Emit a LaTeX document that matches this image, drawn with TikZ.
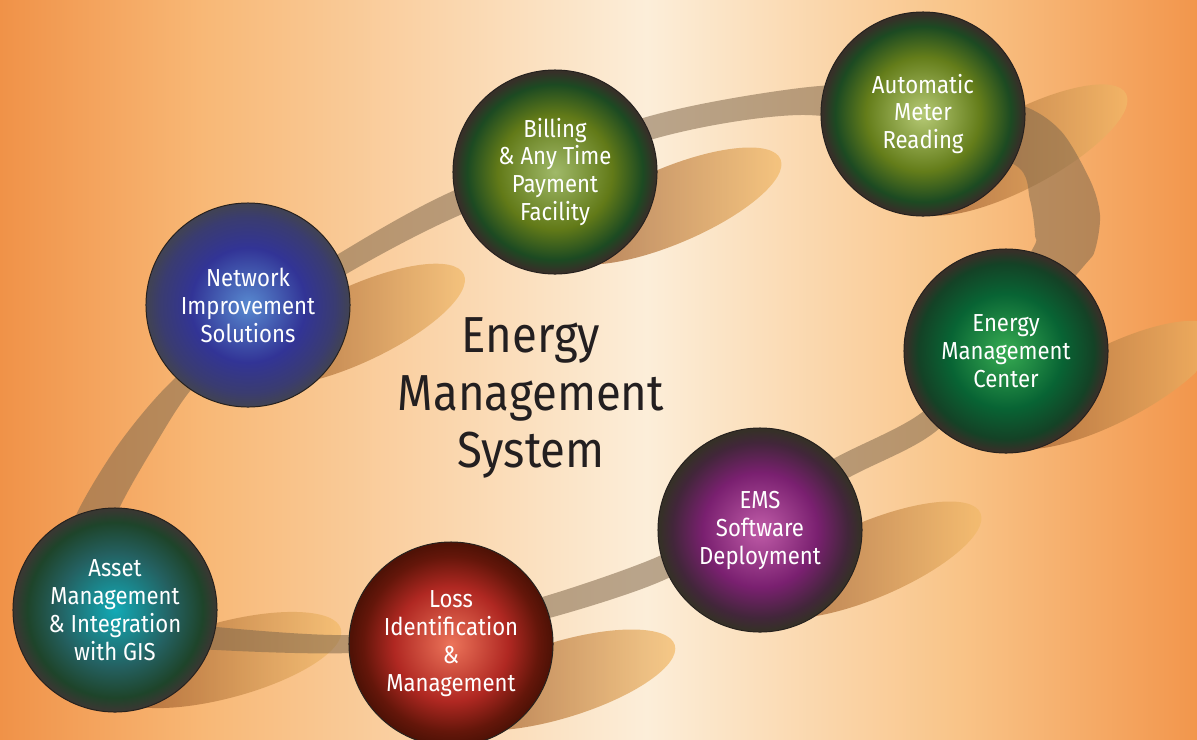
\documentclass[tikz,border=0pt]{standalone}
\usepackage{fontspec}
\setmainfont{Fira Sans}[FakeStretch=0.9]
\usetikzlibrary{positioning}

% background and band colours
\definecolor{bgedge}{RGB}{240,146,72}
\definecolor{bgwarm}{RGB}{248,184,118}
\definecolor{bgcream}{RGB}{252,238,217}
\definecolor{bgpeach}{RGB}{249,196,136}
\definecolor{bgright}{RGB}{242,150,76}
\definecolor{bandbrown}{RGB}{130,105,76}
\definecolor{shadowdark}{RGB}{145,78,36}
\definecolor{shadowlight}{RGB}{246,190,108}
\definecolor{rimline}{RGB}{38,33,30}
\definecolor{titletext}{RGB}{35,31,32}

% sphere colours: centre, middle, dark ring, rim
\definecolor{billA}{RGB}{160,185,105}\definecolor{billB}{RGB}{98,122,24}
\definecolor{billC}{RGB}{28,74,34}\definecolor{billD}{RGB}{54,48,40}
\definecolor{amrA}{RGB}{182,202,118}\definecolor{amrB}{RGB}{100,125,26}
\definecolor{emcA}{RGB}{55,172,82}\definecolor{emcB}{RGB}{8,100,52}
\definecolor{emcC}{RGB}{20,66,38}
\definecolor{emsA}{RGB}{192,92,168}\definecolor{emsB}{RGB}{122,32,112}
\definecolor{emsC}{RGB}{66,38,58}
\definecolor{lossA}{RGB}{236,116,90}\definecolor{lossB}{RGB}{176,40,34}
\definecolor{lossC}{RGB}{100,22,10}\definecolor{lossD}{RGB}{80,18,6}
\definecolor{assetA}{RGB}{18,170,182}\definecolor{assetB}{RGB}{36,96,96}
\definecolor{assetC}{RGB}{30,68,42}\definecolor{assetD}{RGB}{56,56,50}
\definecolor{netA}{RGB}{88,138,208}\definecolor{netB}{RGB}{50,52,150}
\definecolor{netC}{RGB}{58,60,112}\definecolor{netD}{RGB}{64,66,86}

\pgfdeclarehorizontalshading{bgshade}{100bp}{color(0bp)=(bgedge); color(25bp)=(bgedge);
  color(33.5bp)=(bgwarm); color(52bp)=(bgcream); color(65bp)=(bgpeach);
  color(75bp)=(bgright); color(100bp)=(bgright)}
\newcommand{\ballshading}[5]{%
  \pgfdeclareradialshading{#1}{\pgfpoint{0bp}{0bp}}{color(0bp)=(#2);
    color(14bp)=(#3); color(21.5bp)=(#4); color(24.5bp)=(#5); color(50bp)=(#5)}}
\ballshading{billball}{billA}{billB}{billC}{billD}
\ballshading{amrball}{amrA}{amrB}{billC}{billD}
\ballshading{emcball}{emcA}{emcB}{emcC}{billD}
\ballshading{emsball}{emsA}{emsB}{emsC}{billD}
\ballshading{lossball}{lossA}{lossB}{lossC}{lossD}
\ballshading{assetball}{assetA}{assetB}{assetC}{assetD}
\ballshading{netball}{netA}{netB}{netC}{netD}

\tikzset{
  ball/.style = {circle, shade, minimum size=5.1cm, inner sep=0pt,
    draw=rimline, line width=0.7pt, text=white, align=center,
    font=\fontsize{17.5pt}{19.9pt}\selectfont},% one sphere
  titlenode/.style = {align=center, text=titletext, inner sep=0pt,
    font=\fontsize{36pt}{41pt}\selectfont},% centre caption
  shadowfall/.style = {left color=shadowdark, right color=shadowlight,
    opacity=0.72},% long shadow of a sphere
  loopband/.style = {fill=bandbrown, fill opacity=0.55, even odd rule}% ribbon
}

\begin{document}
\begin{tikzpicture}[x=0.025cm,y=-0.025cm]
\useasboundingbox (0,0) rectangle (1197,739);
\shade[shading=bgshade] (0,0) rectangle (1197,739);

% shadows
\foreach \cx/\cy/\ang in {225/660/15, 355/325/25, 560/680/17, 670/206/23,
    870/560/23, 1020/150/28, 1110/385/27}
  \shade[shadowfall, shift={(\cx,\cy)}, rotate=\ang] (0,0) ellipse [x radius=120, y radius=38];

% ribbon
\fill[loopband] plot[smooth cycle] coordinates {(77,513) (118,445) (170,383)
    (255,310) (340,253) (455,190) (643,118) (800,88) (910,85) (1015,103)
    (1060,130) (1090,180) (1100,215) (1095,250) (1083,267) (1010,350)
    (935,432) (848,478) (750,535) (657,583) (553,617) (450,640) (349,653)
    (217,650) (110,640) (62,565)}
  plot[smooth cycle] coordinates {(117,513) (155,445) (197,383) (270,325)
    (348,273) (460,215) (650,140) (800,115) (920,135) (1015,165) (1030,200)
    (1035,235) (1032,250) (980,335) (925,410) (835,458) (745,510) (657,557)
    (549,595) (450,620) (349,635) (217,627) (150,615) (100,570)};

\node[ball, shading=netball] (net) at (248,305) {Network\\Improvement\\Solutions};
\node[ball, shading=billball] (bill) at (555,172) {Billing\\\& Any Time\\Payment\\Facility};
\node[ball, shading=amrball] (amr) at (923,114) {Automatic\\Meter\\Reading};
\node[ball, shading=emcball] (emc) at (1006,351) {Energy\\Management\\Center};
\node[ball, shading=emsball] (ems) at (760,530) {EMS\\Software\\Deployment};
\node[ball, shading=lossball] (loss) at (451,644) {Loss\\Identification\\\&\\Management};
\node[ball, shading=assetball] (asset) at (115,610) {Asset\\Management\\\& Integration\\with GIS};

\node[titlenode] (title) at (531,398) {Energy\\Management\\System};
\end{tikzpicture}
\end{document}
